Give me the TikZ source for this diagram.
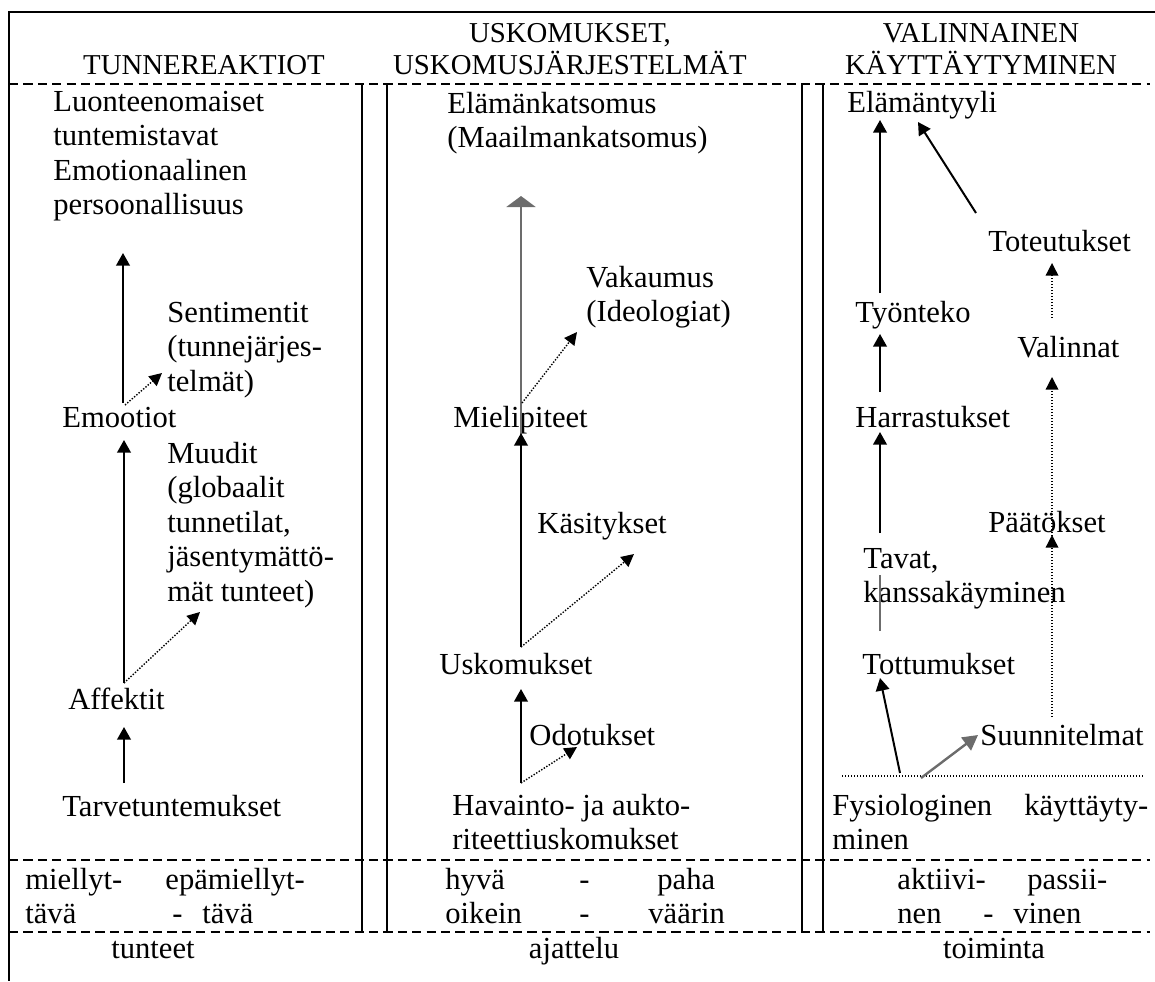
\documentclass[tikz,border=0pt]{standalone}
\usepackage{fontspec}
\setmainfont{Liberation Serif}
\usetikzlibrary{arrows.meta}
\definecolor{arrowgrey}{RGB}{108,108,108}
% stacks of lines whose baseline is that of the first line
\newcommand\linesl[1]{\begin{tabular}[t]{@{}l@{}}#1\end{tabular}}
\newcommand\linesc[1]{\begin{tabular}[t]{@{}c@{}}#1\end{tabular}}
\begin{document}
\begin{tikzpicture}[x=0.5pt,y=-0.5pt,
  txt/.style={inner sep=0pt,anchor=base west,font=\fontsize{15.3}{17.25}\selectfont},
  hdr/.style={inner sep=0pt,anchor=base,font=\fontsize{14.4}{15.5}\selectfont},
  foot/.style={inner sep=0pt,anchor=base,font=\fontsize{15.3}{17.25}\selectfont},
  rule/.style={line width=1pt},
  sep/.style={line width=1.4pt,dash pattern=on 4.6pt off 2.6pt},
  solidarrow/.style={line width=1pt,-{Triangle[width=6.8pt,length=6.3pt]}},
  dotarrow/.style={line width=0.7pt,dash pattern=on 0.7pt off 0.8pt,-{Triangle[width=6.3pt,length=6.3pt]}},
  dotline/.style={line width=0.7pt,dash pattern=on 0.7pt off 0.8pt},
  greyarrow/.style={line width=1.2pt,color=arrowgrey,-{Triangle[width=8pt,length=7.5pt]}},
  widegreyarrow/.style={line width=1.2pt,color=arrowgrey,-{Triangle[width=14.5pt,length=5.5pt]}},
  greyline/.style={line width=1.2pt,color=arrowgrey},
]
\useasboundingbox (0,0) rectangle (1155,981);

% ---------- frame, column boxes and row separators ----------
\draw[rule] (1155,12) -- (9,12) -- (9,981);
\draw[rule] (362,84) -- (362,932);
\draw[rule] (387,84) -- (387,932);
\draw[rule] (802,84) -- (802,932);
\draw[rule] (823,84) -- (823,932);
\draw[sep] (9,84) -- (1150,84);
\draw[sep] (9,860) -- (1150,860);
\draw[sep] (9,932) -- (1150,932);

% ---------- column headings ----------
\node[hdr] (h1) at (204,74) {TUNNEREAKTIOT};
\node[hdr] (h2) at (570,42) {\linesc{USKOMUKSET,\\USKOMUSJÄRJESTELMÄT}};
\node[hdr] (h3) at (981,42) {\linesc{VALINNAINEN\\KÄYTTÄYTYMINEN}};

% ---------- feelings ----------
\node[txt] (luon) at (53,111) {\linesl{Luonteenomaiset\\tuntemistavat\\Emotionaalinen\\persoonallisuus}};
\node[txt] (senti) at (167,322) {\linesl{Sentimentit\\(tunnejärjes-\\telmät)}};
\node[txt] (emo) at (62,427) {Emootiot};
\node[txt] (muud) at (167,463) {\linesl{Muudit\\(globaalit\\tunnetilat,\\jäsentymättö-\\mät tunteet)}};
\node[txt] (aff) at (68,709) {Affektit};
\node[txt] (tarve) at (62,816) {Tarvetuntemukset};

% ---------- beliefs ----------
\node[txt] (elam) at (447,113) {\linesl{Elämänkatsomus\\(Maailmankatsomus)}};
\node[txt] (vak) at (586,287) {\linesl{Vakaumus\\(Ideologiat)}};
\node[txt] (miel) at (453,427) {Mielipiteet};
\node[txt] (kas) at (537,533) {Käsitykset};
\node[txt] (usk) at (439,674) {Uskomukset};
\node[txt] (odo) at (529,745) {Odotukset};
\node[txt] (hav) at (452,815) {\linesl{Havainto- ja aukto-\\riteettiuskomukset}};

% ---------- behaviour ----------
\node[txt] (tyyli) at (847,112) {Elämäntyyli};
\node[txt] (toteu) at (988,251) {Toteutukset};
\node[txt] (tyo) at (855,322) {Työnteko};
\node[txt] (val) at (1017,357) {Valinnat};
\node[txt] (harr) at (855,427) {Harrastukset};
\node[txt] (paat) at (988,532) {Päätökset};
\node[txt] (tavat) at (863,568) {\linesl{Tavat,\\kanssakäyminen}};
\node[txt] (tottu) at (862,674) {Tottumukset};
\node[txt] (suun) at (980,745) {Suunnitelmat};
\node[txt] (fys) at (832,815) {\linesl{\makebox[158pt][s]{Fysiologinen käyttäyty-}\\minen}};

% ---------- poles ----------
\node[txt] (pole1) at (25,889) {\linesl{\makebox[70pt][l]{miellyt-}epämiellyt-\\\makebox[73.5pt][l]{tävä}\makebox[15pt][l]{-}tävä}};
\node[txt] (pole2) at (445,889) {\linesl{\makebox[67pt][l]{hyvä}\makebox[39pt][l]{-}paha\\\makebox[67pt][l]{oikein}\makebox[34.5pt][l]{-}väärin}};
\node[txt] (pole3) at (897,889) {\linesl{\makebox[65pt][l]{aktiivi-}passii-\\\makebox[43pt][l]{nen}\makebox[15pt][l]{-}vinen}};

% ---------- footers ----------
\node[foot] (f1) at (153,958) {tunteet};
\node[foot] (f2) at (574,958) {ajattelu};
\node[foot] (f3) at (994,958) {toiminta};

% ---------- connector end points ----------
\coordinate (emoUp) at (123,403);   \coordinate (luonIn) at (123,253);
\coordinate (emoSide) at (125,405); \coordinate (sentiIn) at (162,373);
\coordinate (affUp) at (124,683);   \coordinate (emoIn) at (124,440);
\coordinate (muudIn) at (200,612);
\coordinate (tarveUp) at (124,783); \coordinate (affIn) at (124,727);

\coordinate (mielUp) at (521,437);  \coordinate (elamIn) at (521,196);
\coordinate (mielSide) at (522,403);\coordinate (vakIn) at (577,332);
\coordinate (uskUp) at (521,647);   \coordinate (mielIn) at (521,433);
\coordinate (kasIn) at (634,554);
\coordinate (havUp) at (521,783);   \coordinate (uskIn) at (521,689);
\coordinate (odoIn) at (577,747);

\coordinate (tyoUp) at (880,293);   \coordinate (tyyliInA) at (880,120);
\coordinate (toteuUp) at (976,213); \coordinate (tyyliInB) at (918,122);
\coordinate (valUp) at (1052,318);  \coordinate (toteuIn) at (1052,263);
\coordinate (harrUp) at (880,392);  \coordinate (tyoIn) at (880,334);
\coordinate (paatUp) at (1052,545); \coordinate (valIn) at (1052,377);
\coordinate (tavatUp) at (880,533); \coordinate (harrIn) at (880,432);
\coordinate (tottuUp) at (880,631); \coordinate (tavatIn) at (880,575);
\coordinate (fysA) at (900,773);    \coordinate (tottuIn) at (880,678);
\coordinate (fysB) at (921,778);    \coordinate (suunIn) at (978,735);
\coordinate (suunUp) at (1052,717); \coordinate (paatIn) at (1052,535);
\coordinate (baseL) at (842,776);   \coordinate (baseR) at (1143,776);

% ---------- connectors ----------
\draw[solidarrow] (emoUp) -- (luonIn);
\draw[dotarrow] (emoSide) -- (sentiIn);
\draw[solidarrow] (affUp) -- (emoIn);
\draw[dotarrow] (affUp) -- (muudIn);
\draw[solidarrow] (tarveUp) -- (affIn);

\draw[widegreyarrow] (mielUp) -- (elamIn);
\draw[dotarrow] (mielSide) -- (vakIn);
\draw[solidarrow] (uskUp) -- (mielIn);
\draw[dotarrow] (uskUp) -- (kasIn);
\draw[solidarrow] (havUp) -- (uskIn);
\draw[dotarrow] (havUp) -- (odoIn);

\draw[solidarrow] (tyoUp) -- (tyyliInA);
\draw[solidarrow] (toteuUp) -- (tyyliInB);
\draw[dotarrow] (valUp) -- (toteuIn);
\draw[solidarrow] (harrUp) -- (tyoIn);
\draw[dotarrow] (paatUp) -- (valIn);
\draw[solidarrow] (tavatUp) -- (harrIn);
\draw[greyline] (tottuUp) -- (tavatIn);
\draw[dotline] (baseL) -- (baseR);
\draw[solidarrow] (fysA) -- (tottuIn);
\draw[greyarrow] (fysB) -- (suunIn);
\draw[dotarrow] (suunUp) -- (paatIn);
\end{tikzpicture}
\end{document}
